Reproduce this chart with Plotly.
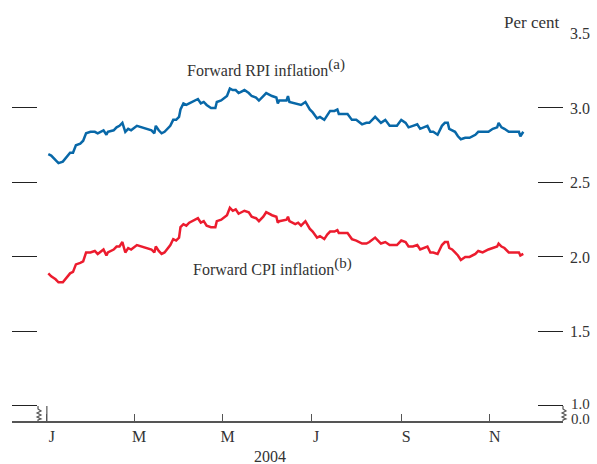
import plotly.graph_objects as go

# Observation dates (2004)
dates = [
    "2004-01-02", "2004-01-04", "2004-01-07", "2004-01-09", "2004-01-12", "2004-01-15", "2004-01-17",
    "2004-01-19", "2004-01-21", "2004-01-24", "2004-01-26", "2004-01-28", "2004-01-31", "2004-02-03",
    "2004-02-05", "2004-02-09", "2004-02-11", "2004-02-12", "2004-02-16", "2004-02-18", "2004-02-20",
    "2004-02-22", "2004-02-24", "2004-02-26", "2004-02-28", "2004-03-03", "2004-03-06", "2004-03-10",
    "2004-03-13", "2004-03-15", "2004-03-16", "2004-03-18", "2004-03-20", "2004-03-22", "2004-03-26",
    "2004-03-28", "2004-03-30", "2004-04-01", "2004-04-02", "2004-04-04", "2004-04-06", "2004-04-08",
    "2004-04-12", "2004-04-14", "2004-04-16", "2004-04-18", "2004-04-20", "2004-04-23", "2004-04-26",
    "2004-04-27", "2004-04-30", "2004-05-04", "2004-05-06", "2004-05-08", "2004-05-10", "2004-05-12",
    "2004-05-14", "2004-05-16", "2004-05-19", "2004-05-21", "2004-05-24", "2004-05-26", "2004-05-29",
    "2004-05-31", "2004-06-04", "2004-06-07", "2004-06-08", "2004-06-09", "2004-06-14", "2004-06-15",
    "2004-06-16", "2004-06-20", "2004-06-22", "2004-06-24", "2004-06-27", "2004-06-30", "2004-07-02",
    "2004-07-05", "2004-07-07", "2004-07-10", "2004-07-12", "2004-07-14", "2004-07-17", "2004-07-19",
    "2004-07-20", "2004-07-22", "2004-07-26", "2004-07-29", "2004-08-01", "2004-08-05", "2004-08-08",
    "2004-08-10", "2004-08-14", "2004-08-17", "2004-08-18", "2004-08-21", "2004-08-24", "2004-08-29",
    "2004-09-01", "2004-09-04", "2004-09-06", "2004-09-09", "2004-09-12", "2004-09-14", "2004-09-17",
    "2004-09-19", "2004-09-21", "2004-09-23", "2004-09-26", "2004-09-29", "2004-10-01", "2004-10-03",
    "2004-10-04", "2004-10-06", "2004-10-08", "2004-10-10", "2004-10-12", "2004-10-15", "2004-10-18",
    "2004-10-22", "2004-10-24", "2004-10-27", "2004-10-31", "2004-11-03", "2004-11-06", "2004-11-07",
    "2004-11-09", "2004-11-11", "2004-11-14", "2004-11-17", "2004-11-21", "2004-11-22", "2004-11-24",
]

# Forward RPI inflation, per cent
rpi = [
    2.69, 2.68, 2.65, 2.63, 2.64, 2.68, 2.70, 2.70, 2.75, 2.76, 2.78, 2.83, 2.84, 2.84,
    2.83, 2.85, 2.82, 2.84, 2.85, 2.87, 2.88, 2.90, 2.84, 2.86, 2.85, 2.88, 2.87, 2.86,
    2.85, 2.83, 2.88, 2.85, 2.83, 2.84, 2.88, 2.92, 2.92, 2.94, 2.99, 3.03, 3.02, 3.03,
    3.05, 3.06, 3.03, 3.04, 3.02, 3.00, 3.00, 3.04, 3.05, 3.08, 3.13, 3.12, 3.12, 3.10,
    3.11, 3.12, 3.10, 3.08, 3.07, 3.05, 3.08, 3.10, 3.08, 3.07, 3.03, 3.05, 3.05, 3.08,
    3.04, 3.03, 3.03, 3.02, 3.04, 2.99, 2.97, 2.93, 2.94, 2.92, 2.95, 2.98, 2.98, 2.99,
    2.96, 2.96, 2.96, 2.92, 2.92, 2.89, 2.90, 2.90, 2.94, 2.91, 2.90, 2.92, 2.88, 2.88,
    2.92, 2.90, 2.87, 2.88, 2.89, 2.86, 2.87, 2.88, 2.84, 2.84, 2.82, 2.88, 2.90, 2.90,
    2.86, 2.85, 2.84, 2.81, 2.79, 2.80, 2.80, 2.82, 2.84, 2.84, 2.84, 2.86, 2.87, 2.90,
    2.87, 2.86, 2.84, 2.84, 2.84, 2.81, 2.84,
]

# Forward CPI inflation, per cent
cpi = [
    1.89, 1.87, 1.85, 1.83, 1.83, 1.87, 1.89, 1.90, 1.95, 1.96, 1.97, 2.03, 2.03, 2.04,
    2.02, 2.05, 2.01, 2.03, 2.05, 2.07, 2.07, 2.10, 2.03, 2.06, 2.05, 2.08, 2.07, 2.06,
    2.05, 2.03, 2.07, 2.04, 2.02, 2.03, 2.08, 2.12, 2.11, 2.13, 2.20, 2.22, 2.21, 2.23,
    2.25, 2.26, 2.23, 2.24, 2.21, 2.20, 2.20, 2.24, 2.25, 2.28, 2.33, 2.31, 2.32, 2.29,
    2.30, 2.31, 2.30, 2.27, 2.26, 2.24, 2.27, 2.30, 2.28, 2.27, 2.23, 2.24, 2.25, 2.27,
    2.24, 2.22, 2.23, 2.21, 2.24, 2.19, 2.17, 2.13, 2.14, 2.12, 2.15, 2.17, 2.17, 2.18,
    2.16, 2.16, 2.16, 2.12, 2.11, 2.09, 2.09, 2.10, 2.13, 2.10, 2.09, 2.10, 2.08, 2.08,
    2.11, 2.10, 2.07, 2.07, 2.08, 2.05, 2.06, 2.07, 2.03, 2.03, 2.02, 2.08, 2.10, 2.10,
    2.06, 2.05, 2.03, 2.01, 1.98, 2.00, 2.00, 2.02, 2.04, 2.03, 2.05, 2.06, 2.07, 2.09,
    2.07, 2.06, 2.03, 2.03, 2.03, 2.01, 2.02,
]

month_ticks = ["2004-01-01", "2004-03-01", "2004-05-01", "2004-07-01", "2004-09-01", "2004-11-01"]
month_labels = ["J", "M", "M", "J", "S", "N"]
y_ticks = [1.0, 1.5, 2.0, 2.5, 3.0, 3.5]
y_labels = ["", "1.5", "2.0", "2.5", "3.0", "3.5"]

BLUE = "#0868A8"
RED = "#EC1C2E"
TEXT = "#333333"
AXIS = "#555555"
FONT = "Liberation Serif"
FS = 16

Y_MIN, Y_MAX = 0.899, 3.503

fig = go.Figure()
fig.add_trace(go.Scatter(x=dates, y=rpi, mode="lines", line=dict(color=BLUE, width=2.5),
                         name="Forward RPI inflation"))
fig.add_trace(go.Scatter(x=dates, y=cpi, mode="lines", line=dict(color=RED, width=2.5),
                         name="Forward CPI inflation"))

# zig-zag axis-break marks (pixel path hanging below the 1.0 level)
zig = "M0,0 L0,-3 L3,-5 L-1,-7 L3,-9 L-1,-11 L3,-13 L0,-14 L0,-16"
shapes = []
for xa in (0.0472, 1.0):
    shapes.append(dict(type="path", path=zig, xref="paper", yref="y",
                       xsizemode="pixel", ysizemode="pixel", xanchor=xa, yanchor=1.0,
                       line=dict(color=AXIS, width=1.2)))
# longer first-month tick reaching up to the break level
shapes.append(dict(type="line", xref="x", yref="y", x0=month_ticks[0], x1=month_ticks[0],
                   y0=Y_MIN, y1=1.0, line=dict(color=AXIS, width=1.2)))

sup = '<sup><span style="font-size:15px">{}</span></sup>'

fig.update_layout(
    width=597, height=464,
    margin=dict(l=12, r=34, t=33, b=43, autoexpand=False),
    paper_bgcolor="white", plot_bgcolor="white",
    showlegend=False,
    font=dict(family=FONT, size=FS, color=TEXT),
    shapes=shapes,
    xaxis=dict(
        type="date", range=["2003-12-08", "2004-12-21 08:00"],
        tickvals=month_ticks, ticktext=month_labels,
        ticks="inside", ticklen=7, tickwidth=1.2, tickcolor=AXIS,
        showline=True, linecolor=AXIS, linewidth=1.5,
        showgrid=False, zeroline=False, ticklabelshift=5,
        tickfont=dict(family=FONT, size=FS, color=TEXT),
    ),
    yaxis=dict(
        range=[Y_MIN, Y_MAX], side="right",
        tickvals=y_ticks, ticktext=y_labels,
        ticks="inside", ticklen=25, tickwidth=1.2, tickcolor="#222222",
        mirror="ticks", showline=False,
        showgrid=False, zeroline=False, ticklabelstandoff=6,
        tickfont=dict(family=FONT, size=FS, color=TEXT),
    ),
    annotations=[
        dict(text="Forward RPI inflation" + sup.format("(a)"), xref="paper", yref="paper",
             x=0.314, y=0.912, xanchor="left", yanchor="middle", showarrow=False),
        dict(text="Forward CPI inflation" + sup.format("(b)"), xref="paper", yref="paper",
             x=0.325, y=0.397, xanchor="left", yanchor="middle", showarrow=False),
        dict(text="Per cent", xref="paper", yref="paper", x=0.998, y=1.028,
             xanchor="right", yanchor="middle", showarrow=False, font=dict(size=17)),
        dict(text="1.0", xref="paper", yref="y", x=1.0, y=1.0, xshift=6,
             xanchor="left", yanchor="middle", yshift=2, showarrow=False, font=dict(size=15)),
        dict(text="0.0", xref="paper", yref="paper", x=1.0, y=0.0, xshift=6,
             xanchor="left", yanchor="middle", yshift=2, showarrow=False, font=dict(size=15)),
        dict(text="2004", xref="paper", yref="paper", x=0.468, y=-0.0927,
             xanchor="center", yanchor="middle", showarrow=False),
    ],
)

fig.write_html("out.html")
